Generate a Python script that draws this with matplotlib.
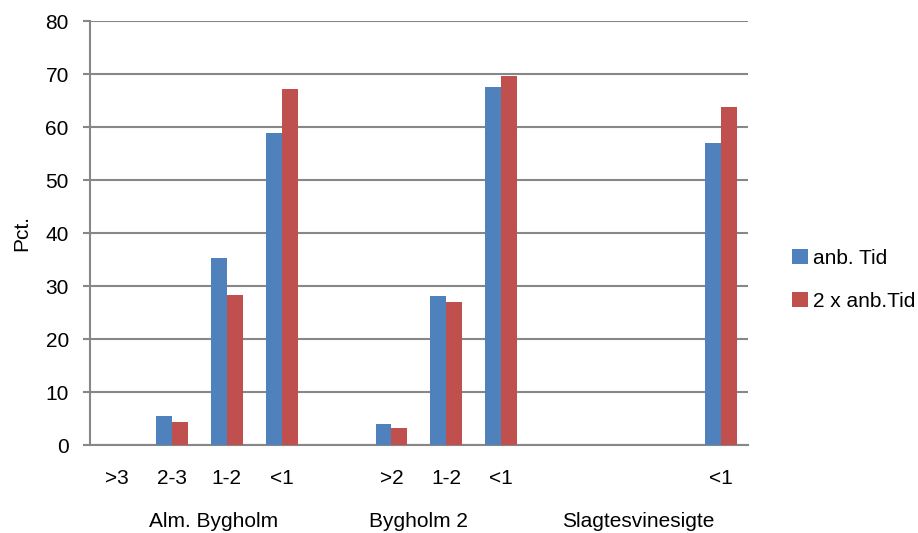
import matplotlib.pyplot as plt
import numpy as np

plt.rcParams['font.family'] = ['Liberation Sans', 'DejaVu Sans']

# category slots along the x axis (blank slots separate the groups)
categories = ['>3', '2-3', '1-2', '<1', '', '>2', '1-2', '<1', '', '', '', '<1']
anb_tid = [0, 5.5, 35.3, 58.8, np.nan, 4.0, 28.2, 67.6, np.nan, np.nan, np.nan, 57.0]
anb_tid_2x = [0, 4.3, 28.3, 67.1, np.nan, 3.3, 27.0, 69.6, np.nan, np.nan, np.nan, 63.7]
groups = ['Alm. Bygholm', 'Bygholm 2', 'Slagtesvinesigte']
group_pos = [1.75, 5.5, 9.5]

blue = '#4F81BD'
red = '#C0504D'
grid = '#878787'
fs = 15

fig = plt.figure(figsize=(9.18, 5.33), dpi=100)
ax = fig.add_axes([0.0976, 0.165, 0.7174, 0.7956])

x = np.arange(len(categories))
w = 0.29
ax.bar(x - w / 2, anb_tid, w, color=blue, label='anb. Tid', zorder=3)
ax.bar(x + w / 2, anb_tid_2x, w, color=red, label='2 x anb.Tid', zorder=3)

ax.set_xlim(-0.5, len(categories) - 0.5)
ax.set_ylim(0, 80)
ax.set_yticks(range(0, 81, 10))
ax.yaxis.grid(True, color=grid, linewidth=1.5, zorder=0)

for side in ['top', 'right']:
    ax.spines[side].set_visible(False)
ax.spines['left'].set_color(grid)
ax.spines['left'].set_linewidth(1.5)
ax.spines['bottom'].set_color(grid)
ax.spines['bottom'].set_linewidth(1.5)

ax.tick_params(axis='y', length=5, width=1.5, color=grid, labelsize=fs, pad=10)
ax.set_xticks(x)
ax.set_xticklabels(categories)
ax.tick_params(axis='x', length=0, labelsize=fs, pad=17)

for name, pos in zip(groups, group_pos):
    ax.annotate(name, xy=(pos, 0), xycoords=('data', 'axes fraction'),
                xytext=(0, -76), textcoords='offset pixels',
                ha='center', va='center', fontsize=fs)

ax.set_ylabel('Pct.', fontsize=fs, labelpad=10)

ax.legend(loc='center left', bbox_to_anchor=(1.038, 0.39), frameon=False,
          fontsize=fs, handlelength=0.75, handleheight=0.75, handletextpad=0.25,
          labelspacing=1.15)

fig.savefig('out.png', dpi=100)
